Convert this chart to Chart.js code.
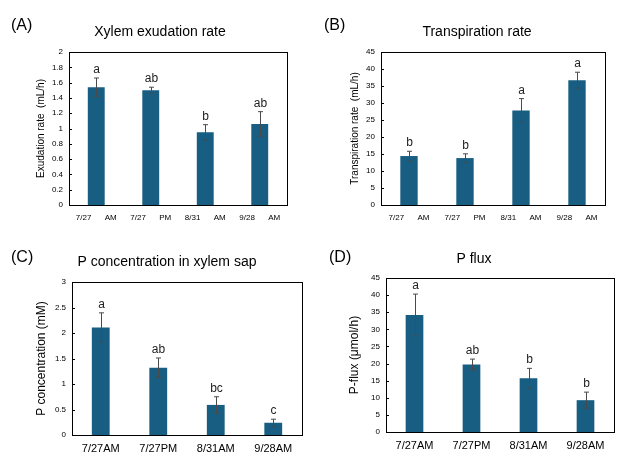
<!DOCTYPE html>
<html>
<head>
<meta charset="utf-8">
<script src="https://cdn.jsdelivr.net/npm/chart.js@4/dist/chart.umd.min.js"></script>
<style>
  html, body { margin: 0; padding: 0; background: #fff; }
  #wrap { position: relative; width: 624px; height: 461px; }
  canvas { position: absolute; }
</style>
</head>
<body>
<div id="wrap">
  <canvas id="chartA" width="312" height="230" style="left:0;top:0"></canvas>
  <canvas id="chartB" width="312" height="230" style="left:312px;top:0"></canvas>
  <canvas id="chartC" width="312" height="231" style="left:0;top:230px"></canvas>
  <canvas id="chartD" width="312" height="231" style="left:312px;top:230px"></canvas>
</div>
<script>
// sampling dates (upper panels use spaced labels, lower panels compact ones)
var categoriesAB = ['7/27      AM', '7/27      PM', '8/31      AM', '9/28      AM'];
var categoriesCD = ['7/27AM', '7/27PM', '8/31AM', '9/28AM'];

// (A) xylem exudation rate, mL/h
var exudationRate = [1.54, 1.50, 0.95, 1.06];
var exudationErr = [0.12, 0.04, 0.10, 0.16];
var exudationLetters = ['a', 'ab', 'b', 'ab'];

// (B) transpiration rate, mL/h
var transpirationRate = [14.4, 13.8, 27.8, 36.7];
var transpirationErr = [1.4, 1.25, 3.5, 2.35];
var transpirationLetters = ['b', 'b', 'a', 'a'];

// (C) P concentration in xylem sap, mM
var pConcentration = [2.11, 1.32, 0.59, 0.24];
var pConcentrationErr = [0.285, 0.19, 0.16, 0.07];
var pConcentrationLetters = ['a', 'ab', 'bc', 'c'];

// (D) P flux, umol/h
var pFlux = [34.2, 19.7, 15.7, 9.3];
var pFluxErr = [6.1, 1.6, 2.9, 2.35];
var pFluxLetters = ['a', 'ab', 'b', 'b'];

var FONT = "'Liberation Sans', Arial, Helvetica, sans-serif";
var BAR_COLOR = '#175e82';
var ERR_COLOR = '#4a4a4a';

// draws frame, inner y ticks, error bars, letters, titles
var panelDecor = {
  id: 'panelDecor',
  afterDraw: function(chart) {
    var o = chart.options.plugins.panelDecor;
    var ctx = chart.ctx;
    var area = chart.chartArea;
    var y = chart.scales.y;
    var meta = chart.getDatasetMeta(0);
    ctx.save();

    // frame
    ctx.strokeStyle = '#000';
    ctx.lineWidth = 1;
    ctx.strokeRect(Math.round(area.left) + 0.5, Math.round(area.top) + 0.5,
      Math.round(area.right - area.left), Math.round(area.bottom - area.top));

    // small inward tick marks on the value axis
    y.ticks.forEach(function(t) {
      var py = Math.round(y.getPixelForValue(t.value)) + 0.5;
      ctx.beginPath();
      ctx.moveTo(area.left, py);
      ctx.lineTo(area.left + 3, py);
      ctx.stroke();
    });

    // error bars + significance letters
    ctx.strokeStyle = ERR_COLOR;
    ctx.fillStyle = '#222';
    ctx.font = '12px ' + FONT;
    ctx.textAlign = 'center';
    ctx.textBaseline = 'alphabetic';
    o.values.forEach(function(v, i) {
      var x = Math.round(meta.data[i].x) + 0.5;
      var top = y.getPixelForValue(v + o.errors[i]);
      var bot = y.getPixelForValue(v - o.errors[i]);
      ctx.beginPath();
      ctx.moveTo(x, top); ctx.lineTo(x, bot);
      ctx.moveTo(x - 2.5, top); ctx.lineTo(x + 2.5, top);
      ctx.moveTo(x - 2.5, bot); ctx.lineTo(x + 2.5, bot);
      ctx.stroke();
      ctx.fillText(o.letters[i], x, top - 5);
    });

    // panel tag and title
    ctx.fillStyle = '#000';
    ctx.textAlign = 'left';
    ctx.font = '16px ' + FONT;
    ctx.fillText(o.tag, o.tagX, o.tagY);
    ctx.textAlign = 'center';
    ctx.font = '14px ' + FONT;
    ctx.fillText(o.title, o.titleX, o.titleY);

    // y axis title
    ctx.translate(o.yTitleX, (area.top + area.bottom) / 2);
    ctx.rotate(-Math.PI / 2);
    ctx.textBaseline = 'middle';
    ctx.font = o.yTitleSize + 'px ' + FONT;
    ctx.fillText(o.yTitle, 0, 0);
    ctx.restore();
  }
};

var makePanel = function(id, labels, values, errors, letters, p) {
  var ctx = document.getElementById(id).getContext('2d');
  return new Chart(ctx, {
    type: 'bar',
    data: {
      labels: labels,
      datasets: [{
        data: values,
        backgroundColor: BAR_COLOR,
        borderWidth: 0,
        categoryPercentage: 1,
        barPercentage: 0.31
      }]
    },
    options: {
      responsive: false,
      animation: false,
      layout: { padding: { left: 0, right: p.right, top: p.top, bottom: 0 } },
      plugins: {
        legend: { display: false },
        tooltip: { enabled: false },
        panelDecor: {
          values: values, errors: errors, letters: letters,
          tag: p.tag, tagX: p.tagX, tagY: p.tagY,
          title: p.title, titleX: p.titleX, titleY: p.titleY,
          yTitle: p.yTitle, yTitleX: p.yTitleX, yTitleSize: p.yTitleSize
        }
      },
      scales: {
        x: {
          grid: { display: false, drawTicks: false },
          border: { display: false },
          ticks: {
            color: '#000', font: { family: FONT, size: p.xFont },
            padding: p.xPad, maxRotation: 0, autoSkip: false
          },
          afterFit: function(s) { s.height = p.xHeight; }
        },
        y: {
          min: 0, max: p.max,
          grid: { display: false, drawTicks: false },
          border: { display: false },
          ticks: {
            stepSize: p.step, color: '#000',
            font: { family: FONT, size: 8 }, padding: 6,
            callback: function(v) { return String(Math.round(v * 10) / 10); }
          },
          afterFit: function(s) { s.width = p.left; }
        }
      }
    },
    plugins: [panelDecor]
  });
};

makePanel('chartA', categoriesAB, exudationRate, exudationErr, exudationLetters, {
  left: 69, right: 25, top: 52, xHeight: 25, xFont: 8, xPad: 8,
  max: 2, step: 0.2,
  tag: '(A)', tagX: 11, tagY: 30,
  title: 'Xylem exudation rate', titleX: 160, titleY: 36,
  yTitle: 'Exudation rate  (mL/h)', yTitleX: 41, yTitleSize: 10
});

makePanel('chartB', categoriesAB, transpirationRate, transpirationErr, transpirationLetters, {
  left: 69, right: 19, top: 52, xHeight: 25, xFont: 8, xPad: 8,
  max: 45, step: 5,
  tag: '(B)', tagX: 12, tagY: 30,
  title: 'Transpiration rate', titleX: 165, titleY: 36,
  yTitle: 'Transpiration rate  (mL/h)', yTitleX: 43, yTitleSize: 10
});

makePanel('chartC', categoriesCD, pConcentration, pConcentrationErr, pConcentrationLetters, {
  left: 72, right: 10, top: 52, xHeight: 26, xFont: 11, xPad: 7,
  max: 3, step: 0.5,
  tag: '(C)', tagX: 11, tagY: 32,
  title: 'P concentration in xylem sap', titleX: 167, titleY: 36,
  yTitle: 'P concentration (mM)', yTitleX: 42, yTitleSize: 12
});

makePanel('chartD', categoriesCD, pFlux, pFluxErr, pFluxLetters, {
  left: 74, right: 10, top: 48, xHeight: 29, xFont: 11, xPad: 7,
  max: 45, step: 5,
  tag: '(D)', tagX: 17, tagY: 32,
  title: 'P flux', titleX: 162, titleY: 33,
  yTitle: 'P-flux (\u03bcmol/h)', yTitleX: 43, yTitleSize: 12
});
</script>
</body>
</html>
